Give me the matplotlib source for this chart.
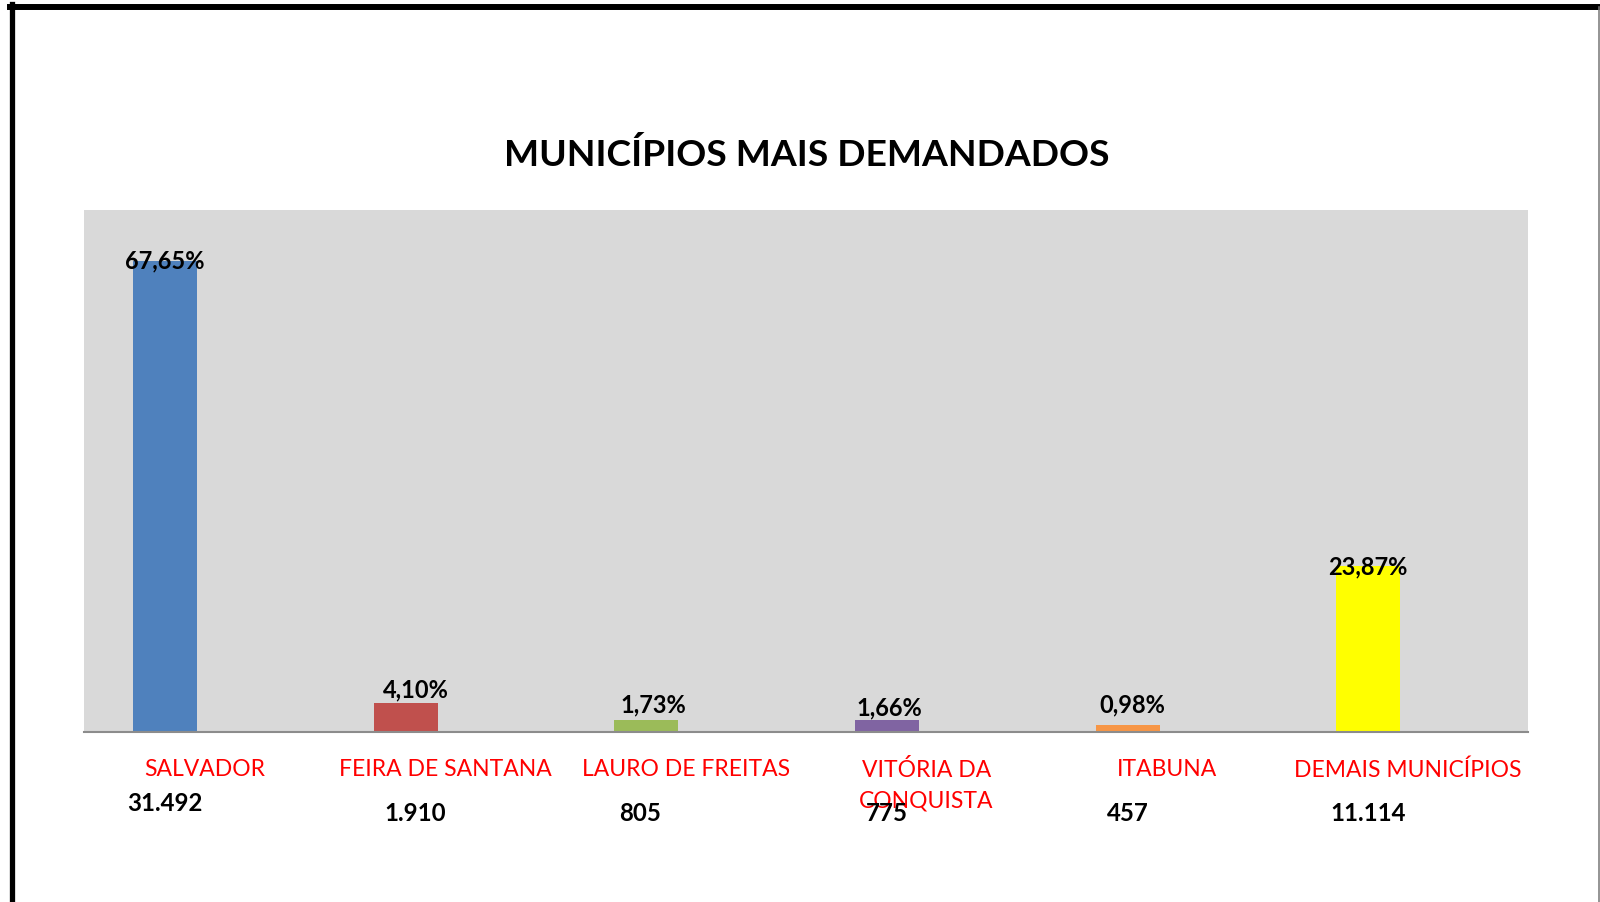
import matplotlib
matplotlib.use("Agg")
import matplotlib.pyplot as plt
from matplotlib.lines import Line2D
import numpy as np

plt.rcParams['font.family'] = ['Lato', 'DejaVu Sans']

# data
municipios = ['SALVADOR', 'FEIRA DE SANTANA', 'LAURO DE FREITAS',
              'VITÓRIA DA\nCONQUISTA', 'ITABUNA', 'DEMAIS MUNICÍPIOS']
percentuais = [67.65, 4.10, 1.73, 1.66, 0.98, 23.87]
pct_labels = ['67,65%', '4,10%', '1,73%', '1,66%', '0,98%', '23,87%']
quantidades = ['31.492', '1.910', '805', '775', '457', '11.114']
cores = ['#4F81BD', '#C0504D', '#9BBB59', '#8064A2', '#F79646', '#FFFF00']

fig = plt.figure(figsize=(16, 9.03), dpi=100)
ax = fig.add_axes([0.0525, 0.1883, 0.9025, 0.578])
ax.set_facecolor('#D9D9D9')

x = np.arange(len(municipios))
xb = x - 0.164
ax.bar(xb, percentuais, width=0.266, color=cores, zorder=2)
ax.set_xlim(-0.5, len(municipios) - 0.5)
ax.set_ylim(0, 75)

for s in ['top', 'left', 'right']:
    ax.spines[s].set_visible(False)
ax.spines['bottom'].set_color('#8C8C8C')
ax.spines['bottom'].set_linewidth(1.5)
ax.set_yticks([])
ax.set_xticks([])

# percentage labels above bars (hand-placed in the original)
lbl_off = [0.25, 2.05, 2.25, 1.95, 3.05, 0.05]
lbl_dx = [0.0, 0.042, 0.03, 0.012, 0.02, 0.0]
for xi, v, t, d, dx in zip(xb, percentuais, pct_labels, lbl_off, lbl_dx):
    ax.text(xi + dx, v + d, t, ha='center', va='center', fontsize=17,
            fontweight='bold', color='black', zorder=3)

# category names and counts under the axis
trans = ax.get_xaxis_transform()
for xi, name in zip(x, municipios):
    ax.text(xi, -0.05, name, transform=trans, ha='center', va='top',
            fontsize=16.5, color='#FF0000', linespacing=1.55)

num_y = [-0.135, -0.155, -0.155, -0.155, -0.155, -0.155]
num_dx = [0.0, 0.042, -0.025, 0.0, 0.0, 0.0]
for xi, q, yy, dx in zip(xb, quantidades, num_y, num_dx):
    ax.text(xi + dx, yy, q, transform=trans, ha='center', va='center',
            fontsize=17.3, fontweight='bold', color='black')

fig.text(807 / 1600, 1 - 155 / 903, 'MUNICÍPIOS MAIS DEMANDADOS',
         ha='center', va='center', fontsize=26.8, fontweight='bold')

# frame lines around the picture
fig.add_artist(Line2D([0.0078, 0.0078], [0.0, 0.994], color='black', lw=3.8))
fig.add_artist(Line2D([0.0063, 0.9995], [0.9911, 0.9911], color='black', lw=4.3))
fig.add_artist(Line2D([0.9991, 0.9991], [0.0, 0.9911], color='#777777', lw=1.1))

fig.savefig('out.png', dpi=100, facecolor='white')
